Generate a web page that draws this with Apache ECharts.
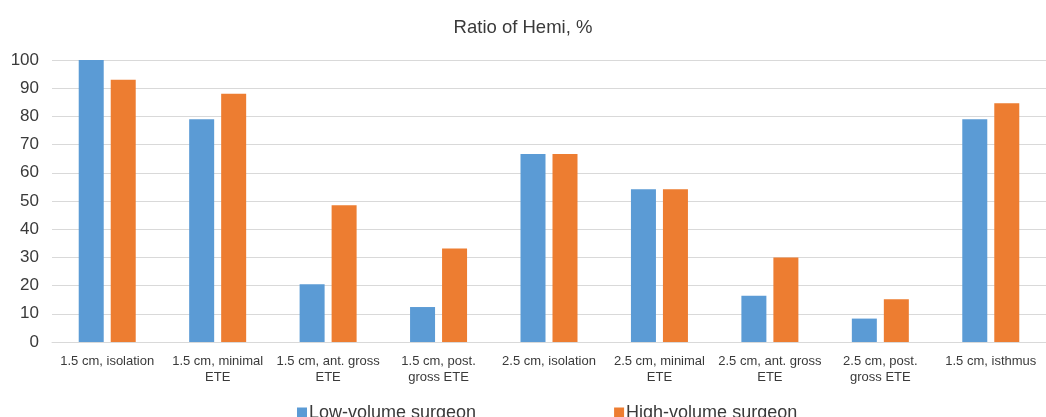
<!DOCTYPE html>
<html>
<head>
<meta charset="utf-8">
<script src="https://cdn.jsdelivr.net/npm/echarts@6/dist/echarts.min.js"></script>
<style>
  html, body { margin: 0; padding: 0; background: #fff; }
  #chart { width: 1046px; height: 417px; }
</style>
</head>
<body>
<div id="chart"></div>
<script>
// Categories: tumour size and extent of extrathyroidal extension
const categories = [
  '1.5 cm, isolation',
  '1.5 cm, minimal\nETE',
  '1.5 cm, ant. gross\nETE',
  '1.5 cm, post.\ngross ETE',
  '2.5 cm, isolation',
  '2.5 cm, minimal\nETE',
  '2.5 cm, ant. gross\nETE',
  '2.5 cm, post.\ngross ETE',
  '1.5 cm, isthmus'
];

// Share choosing hemithyroidectomy, %
const lowVolume  = [100, 79, 20.5, 12.4, 66.7, 54.2, 16.4, 8.3, 79];
const highVolume = [93, 88, 48.5, 33.2, 66.7, 54.2, 30, 15.2, 84.7];

const seriesNames = ['Low-volume surgeon', 'High-volume surgeon'];
const yTicks = { min: 0, max: 100, interval: 10 };

const FONT = '"Liberation Sans", Arial, sans-serif';
const TEXT = '#3a3a3a';

const chart = echarts.init(document.getElementById('chart'), null, { renderer: 'canvas' });

chart.setOption({
  animation: false,
  backgroundColor: '#ffffff',
  title: {
    text: 'Ratio of Hemi, %',
    left: 'center',
    top: 13,
    textStyle: { fontFamily: FONT, fontSize: 18.5, fontWeight: 'normal', color: TEXT }
  },
  legend: {
    data: seriesNames,
    left: 292,
    top: 399,
    itemWidth: 10,
    itemHeight: 11,
    itemGap: 138,
    icon: 'rect',
    textStyle: { fontFamily: FONT, fontSize: 18, color: TEXT, padding: [0, 0, 0, -3] }
  },
  grid: { left: 52, right: 0, top: 60, bottom: 75, containLabel: false },
  xAxis: {
    type: 'category',
    data: categories,
    axisLine: { show: true, lineStyle: { color: '#d9d9d9', width: 1 } },
    axisTick: { show: false },
    axisLabel: {
      interval: 0,
      margin: 11,
      fontFamily: FONT,
      fontSize: 13,
      lineHeight: 16,
      color: TEXT
    }
  },
  yAxis: {
    type: 'value',
    min: yTicks.min,
    max: yTicks.max,
    interval: yTicks.interval,
    axisLine: { show: false },
    axisTick: { show: false },
    splitLine: { lineStyle: { color: '#d9d9d9', width: 1 } },
    axisLabel: { margin: 13, fontFamily: FONT, fontSize: 17, color: TEXT }
  },
  series: [
    {
      name: seriesNames[0],
      type: 'bar',
      data: lowVolume,
      barWidth: 25,
      barGap: '28%',
      itemStyle: { color: '#5b9bd5' }
    },
    {
      name: seriesNames[1],
      type: 'bar',
      data: highVolume,
      barWidth: 25,
      itemStyle: { color: '#ed7d31' }
    }
  ]
});
</script>
</body>
</html>
